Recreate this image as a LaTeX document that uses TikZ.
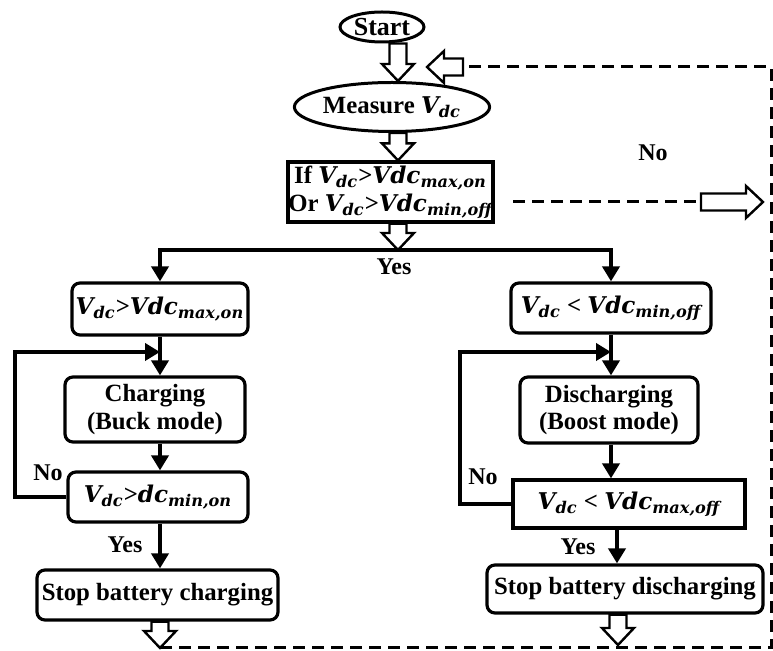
\documentclass[tikz,border=0pt]{standalone}
\usepackage{fontspec}
\setmainfont{Liberation Serif}
\newfontfamily\eqfont{DejaVu Serif}[Scale=0.93]
\usetikzlibrary{shapes.geometric,arrows.meta,calc}

% voltage symbols
\newcommand{\vdc}{{\eqfont\bfseries\itshape V\textsubscript{dc}}}
\newcommand{\vlim}[1]{{\eqfont\bfseries\itshape Vdc\textsubscript{#1}}}
\newcommand{\dlim}[1]{{\eqfont\bfseries\itshape dc\textsubscript{#1}}}

% open block arrow from #1 to #2 (both named coordinates)
\newcommand{\hollowarrow}[2]{%
  \coordinate (hb) at ($(#2)!8.5pt!(#1)$);
  \draw[hollow] ($(#1)!4.25pt!90:(#2)$) -- ($(hb)!4.25pt!90:(#2)$)
    -- ($(hb)!8pt!90:(#2)$) -- (#2) -- ($(hb)!8pt!-90:(#2)$)
    -- ($(hb)!4.25pt!-90:(#2)$) -- ($(#1)!4.25pt!-90:(#2)$) -- cycle;}

\tikzset{
  txt/.style={font=\bfseries\fontsize{12.4}{13.8}\selectfont},
  oval/.style={ellipse, draw, line width=1.5pt, inner sep=0pt, txt},
  box/.style={rectangle, draw, line width=1.6pt, inner sep=0pt, align=center, txt},
  rbox/.style={box, rounded corners=4pt},
  flow/.style={line width=2.4pt, -{Triangle[length=7.5pt,width=8.5pt]}},
  bar/.style={line width=2.4pt},
  back/.style={dash pattern=on 6pt off 3.5pt, line width=1.5pt},
  hollow/.style={draw, fill=white, line width=1.2pt, line join=miter},
  lbl/.style={font=\bfseries\fontsize{12}{13}\selectfont}
}

\begin{document}
\begin{tikzpicture}[x=0.5pt,y=-0.5pt]
  \useasboundingbox (0,0) rectangle (773,651);

  % main chain
  \node[oval, minimum width=42pt, minimum height=15pt,
        font=\bfseries\fontsize{13}{15}\selectfont] (start) at (382,27) {Start};
  \node[oval, minimum width=87.5pt, minimum height=24.5pt] (measure) at (392,107) {Measure \vdc};
  \node[box, minimum width=102.5pt, minimum height=30pt] (check) at (390.5,192)
    {If \vdc>\vlim{max,on}\\Or \vdc>\vlim{min,off}};

  % charging side
  \node[rbox, minimum width=88pt, minimum height=26pt] (overv) at (160,309) {\vdc>\vlim{max,on}};
  \node[rbox, minimum width=90pt, minimum height=32.5pt] (charge) at (155,409.5) {Charging\\(Buck mode)};
  \node[rbox, minimum width=90pt, minimum height=25pt] (chgdone) at (158,497) {\vdc>\dlim{min,on}};
  \node[rbox, minimum width=120.5pt, minimum height=25pt] (stopc) at (157.5,595) {Stop battery charging};

  % discharging side
  \node[rbox, minimum width=100pt, minimum height=25pt] (underv) at (611,308) {\vdc{} < \vlim{min,off}};
  \node[rbox, minimum width=89pt, minimum height=33pt] (discharge) at (609,410) {Discharging\\(Boost mode)};
  \node[box, minimum width=116pt, minimum height=24pt] (dischgdone) at (629,504) {\vdc{} < \vlim{max,off}};
  \node[rbox, minimum width=138pt, minimum height=24pt] (stopd) at (625,589) {Stop battery discharging};

  \coordinate (split) at (398,250);
  \coordinate (lmerge) at (160,352);
  \coordinate (rmerge) at (611,352);
  \coordinate (rout) at (617,528);
  \coordinate (cend) at (160,648);
  \coordinate (dend) at (618,645);
  \coordinate (corner) at (771,648);
  \coordinate (ret) at (463,67);
  \coordinate (rettip) at (427,67);
  \coordinate (nos) at (513,202);
  \coordinate (noe) at (701,202);
  \coordinate (notip) at (763,202);

  % branches
  \draw[bar] (split -| overv) -- (split -| underv);
  \draw[flow] (split) -| (overv.north);
  \draw[flow] (split) -| (underv.north);
  \draw[flow] (overv.south) -- (overv.south |- charge.north);
  \draw[flow] (charge.south -| overv) -- (chgdone.north -| overv);
  \draw[flow] (chgdone.south -| overv) -- (stopc.north -| overv);
  \draw[flow] (chgdone.west) -- (15,497) |- (lmerge);
  \draw[flow] (underv.south) -- (underv.south |- discharge.north);
  \draw[flow] (discharge.south -| underv) -- (dischgdone.north -| underv);
  \draw[flow] (dischgdone.south -| rout) -- (stopd.north -| rout);
  \draw[flow] (dischgdone.west) -- (460,504) |- (rmerge);

  % feedback
  \draw[back] (cend) -- (corner) |- (ret);
  \draw[back] (nos) -- (noe);

  % open arrows
  \coordinate (h1) at (start.south -| split);
  \coordinate (h2) at (measure.north -| split);
  \coordinate (h3) at (measure.south -| split);
  \coordinate (h4) at (check.north -| split);
  \coordinate (h5) at (check.south -| split);
  \coordinate (h6) at (stopc.south -| cend);
  \coordinate (h7) at (stopd.south -| dend);
  \hollowarrow{h1}{h2}
  \hollowarrow{h3}{h4}
  \hollowarrow{h5}{split}
  \hollowarrow{h6}{cend}
  \hollowarrow{h7}{dend}
  \hollowarrow{ret}{rettip}
  \hollowarrow{noe}{notip}

  % labels
  \node[lbl] (yes0) at (394,267) {Yes};
  \node[lbl] (no0) at (653,153) {No};
  \node[lbl] (no1) at (48,473) {No};
  \node[lbl] (yes1) at (125,545) {Yes};
  \node[lbl] (no2) at (483,477) {No};
  \node[lbl] (yes2) at (578,547) {Yes};
\end{tikzpicture}
\end{document}
